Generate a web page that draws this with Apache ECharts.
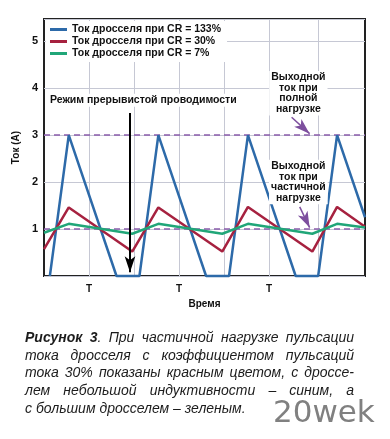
<!DOCTYPE html>
<html><head><meta charset="utf-8">
<script src="https://cdn.jsdelivr.net/npm/echarts@6/dist/echarts.min.js"></script>
<style>html,body{margin:0;padding:0;background:#fff}#c{width:390px;height:439px}</style>
</head><body><div id="c"></div>
<script>
// ---- data ----
const seriesNames = ['Ток дросселя при CR = 133%', 'Ток дросселя при CR = 30%', 'Ток дросселя при CR = 7%'];
const timeBlue = [0.13, 0.55, 1.61, 2.12, 2.54, 3.60, 4.11, 4.53, 5.59, 6.09, 6.51, 7.13];
const currentBlue = [0, 3.0, 0, 0, 3.0, 0, 0, 3.0, 0, 0, 3.0, 1.25];
const timeRedGreen = [0, 0.55, 1.96, 2.54, 3.96, 4.53, 5.96, 6.51, 7.13];
const currentRed = [0.57, 1.46, 0.52, 1.46, 0.52, 1.47, 0.52, 1.47, 1.05];
const currentGreen = [0.92, 1.11, 0.90, 1.11, 0.90, 1.11, 0.90, 1.11, 1.03];
const yTickValues = [1, 2, 3, 4, 5];
const tTickValues = [1, 3, 5];
const tTickLabel = 'T';
const verticalGridTimes = [1, 2, 3, 4, 5, 6.09];
const fullLoadCurrent = 3;
const partialLoadCurrent = 1;
const yAxisTitle = 'Ток (А)';
const xAxisTitle = 'Время';
const modeText = 'Режим прерывистой проводимости';
const fullLoadText = 'Выходной\nток при\nполной\nнагрузке';
const partialLoadText = 'Выходной\nток при\nчастичной\nнагрузке';
const captionBold = 'Рисунок 3';
const captionLines = [
  'Рисунок 3. При частичной нагрузке пульсации',
  'тока дросселя с коэффициентом пульсаций',
  'тока 30% показаны красным цветом, с дроссе-',
  'лем небольшой индуктивности – синим, а',
  'с большим дросселем – зеленым.'
];
const watermark = '20wek';

// ---- chart ----
const F = '"Liberation Sans", Arial, sans-serif';
const xMax = 7.13, yMax = 5.47;
const gridColor = '#c6c8d4';
const colors = ['#2d6aa9', '#a6213f', '#20a678'];
const pair = (xs, ys) => xs.map((x, i) => [x, ys[i]]);
const chart = echarts.init(document.getElementById('c'), null, {renderer: 'canvas'});

const option = {
  animation: false,
  backgroundColor: '#fff',
  grid: {left: 44, right: 25, top: 19, bottom: 163, show: true, borderColor: '#222', borderWidth: 2, backgroundColor: 'transparent'},
  legend: {
    data: seriesNames, orient: 'vertical', left: 46, top: 21, z: 20,
    itemWidth: 17, itemHeight: 3, icon: 'rect', itemGap: 1,
    backgroundColor: '#fff', padding: [3, 6, 3, 4],
    textStyle: {fontFamily: F, fontWeight: 'bold', fontSize: 10.5, color: '#111', lineHeight: 10}
  },
  xAxis: {
    type: 'value', min: 0, max: xMax, interval: 1,
    axisLine: {show: false}, axisTick: {show: false}, splitLine: {show: false},
    axisLabel: {formatter: v => tTickValues.includes(v) ? tTickLabel : '', margin: 8,
      fontFamily: F, fontWeight: 'bold', fontSize: 10, color: '#111'},
    name: xAxisTitle, nameLocation: 'middle', nameGap: 23,
    nameTextStyle: {fontFamily: F, fontWeight: 'bold', fontSize: 10, color: '#111'}
  },
  yAxis: {
    type: 'value', min: 0, max: yMax, interval: 1,
    axisLine: {show: false}, axisTick: {show: false},
    splitLine: {show: true, lineStyle: {color: gridColor, width: 1}},
    axisLabel: {formatter: v => yTickValues.includes(v) ? String(v) : '', margin: 6,
      fontFamily: F, fontWeight: 'bold', fontSize: 11, color: '#111'},
    name: yAxisTitle, nameLocation: 'middle', nameGap: 15,
    nameTextStyle: {fontFamily: F, fontWeight: 'bold', fontSize: 10, color: '#111'}
  },
  series: [
    {name: 'grid', type: 'line', data: [], z: 1, silent: true,
      markLine: {z: 1, silent: true, symbol: 'none', label: {show: false}, animation: false,
        lineStyle: {color: gridColor, width: 1, type: 'solid'},
        data: verticalGridTimes.map(x => ({xAxis: x}))}},
    {name: 'load', type: 'line', data: [], z: 2, silent: true,
      markLine: {z: 2, silent: true, symbol: 'none', label: {show: false}, animation: false,
        lineStyle: {color: '#8a5cab', width: 1.5, type: [6, 4]},
        data: [{yAxis: fullLoadCurrent}, {yAxis: partialLoadCurrent}]}},
    {name: seriesNames[0], type: 'line', data: pair(timeBlue, currentBlue), showSymbol: false, symbol: 'none',
      clip: false, z: 3, lineStyle: {color: colors[0], width: 2.5}, itemStyle: {color: colors[0]}},
    {name: seriesNames[1], type: 'line', data: pair(timeRedGreen, currentRed), showSymbol: false, symbol: 'none',
      clip: false, z: 3, lineStyle: {color: colors[1], width: 2.5}, itemStyle: {color: colors[1]}},
    {name: seriesNames[2], type: 'line', data: pair(timeRedGreen, currentGreen), showSymbol: false, symbol: 'none',
      clip: false, z: 3, lineStyle: {color: colors[2], width: 2.5}, itemStyle: {color: colors[2]}},
    {name: 'arrows', type: 'line', data: [], z: 5, silent: true,
      markLine: {z: 6, silent: true, symbol: ['none', 'arrow'], label: {show: false}, animation: false,
        data: [
          [{coord: [1.91, 3.47], symbolSize: [7, 13], lineStyle: {color: '#000', width: 2, type: 'solid'}}, {coord: [1.91, 0.08]}],
          [{coord: [5.50, 3.38], symbolSize: [7, 9], lineStyle: {color: '#7d4f9e', width: 1.5, type: 'solid'}}, {coord: [5.90, 3.03]}],
          [{coord: [5.68, 1.47], symbolSize: [7, 9], lineStyle: {color: '#7d4f9e', width: 1.5, type: 'solid'}}, {coord: [5.90, 1.03]}]
        ]}}
  ]
};
chart.setOption(option);

// ---- annotations positioned from data coordinates ----
const px = (x, y) => chart.convertToPixel({gridIndex: 0}, [x, y]);
const annFont = 'bold 10.5px ' + F;
const graphics = [];
const pMode = px(0.11, 3.74);
graphics.push({type: 'text', z: 100, x: pMode[0], y: pMode[1], style: {text: modeText, font: 'bold 10.5px ' + F, fill: '#111', align: 'left', verticalAlign: 'middle', backgroundColor: '#fff', padding: [1, 1]}});
const pFull = px(5.65, 3.89);
graphics.push({type: 'text', z: 100, x: pFull[0], y: pFull[1], style: {text: fullLoadText, font: annFont, fill: '#111', align: 'center', verticalAlign: 'middle', lineHeight: 10.6, backgroundColor: '#fff', padding: [1, 2]}});
const pPart = px(5.65, 2.0);
graphics.push({type: 'text', z: 100, x: pPart[0], y: pPart[1], style: {text: partialLoadText, font: annFont, fill: '#111', align: 'center', verticalAlign: 'middle', lineHeight: 10.6, backgroundColor: '#fff', padding: [1, 2]}});

// ---- caption (justified) ----
const ctx = document.createElement('canvas').getContext('2d');
const capSize = 14;
const fontStr = b => 'italic ' + (b ? 'bold ' : '') + capSize + 'px "Liberation Sans"';
const measure = (t, b) => { ctx.font = fontStr(b); return ctx.measureText(t).width; };
const capLeft = 25, capRight = 354, capTop = 338, capStep = 17.75;
captionLines.forEach((line, li) => {
  const words = line.split(' ');
  let pos = 0;
  const ws = words.map(w => {
    const segs = [];
    for (let k = 0; k < w.length; k++) {
      const b = li === 0 && pos + k < captionBold.length;
      if (segs.length && segs[segs.length - 1].b === b) segs[segs.length - 1].t += w[k];
      else segs.push({t: w[k], b});
    }
    pos += w.length + 1;
    segs.forEach(s => s.w = measure(s.t, s.b));
    return {segs, w: segs.reduce((a, s) => a + s.w, 0)};
  });
  const total = ws.reduce((a, w) => a + w.w, 0);
  const justify = li < captionLines.length - 1;
  const gap = justify ? (capRight - capLeft - total) / (words.length - 1) : measure(' ', false);
  let x = capLeft;
  ws.forEach(w => {
    w.segs.forEach(s => {
      graphics.push({type: 'text', z: 100, x: x, y: capTop + li * capStep, style: {text: s.t, font: fontStr(s.b), fill: '#1c1c1c', align: 'left', verticalAlign: 'middle'}});
      x += s.w;
    });
    x += gap;
  });
});
graphics.push({type: 'text', z: 100, x: 273, y: 414, style: {text: watermark, font: '31px "DejaVu Sans"', fill: '#808080', align: 'left', verticalAlign: 'middle'}});

chart.setOption({graphic: graphics});
</script>
</body></html>
